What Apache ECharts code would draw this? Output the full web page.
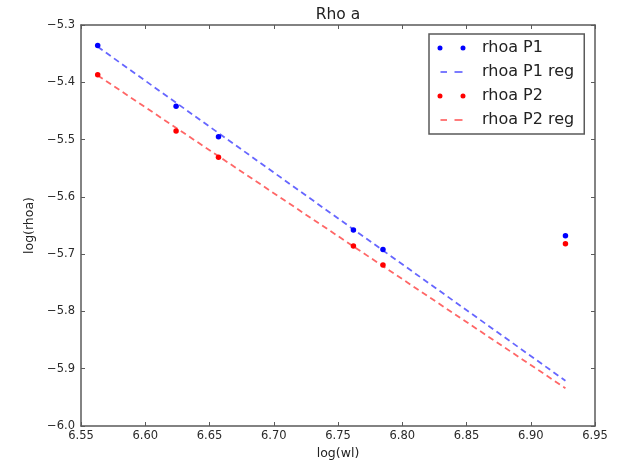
<!DOCTYPE html>
<html>
<head>
<meta charset="utf-8">
<script src="https://cdn.jsdelivr.net/npm/echarts@6/dist/echarts.min.js"></script>
<style>
html,body{margin:0;padding:0;background:#fff;}
#chart{width:619px;height:466px;}
</style>
</head>
<body>
<div id="chart"></div>
<script>
// ---- data ----
var xValues = [6.563, 6.624, 6.657, 6.762, 6.785, 6.927];
var rhoaP1 = [-5.336, -5.442, -5.495, -5.658, -5.692, -5.668];
var rhoaP2 = [-5.387, -5.485, -5.531, -5.686, -5.719, -5.682];
var regX = [6.563, 6.927];
var regP1 = [-5.338, -5.921];
var regP2 = [-5.388, -5.934];
var seriesNames = ['rhoa P1', 'rhoa P1 reg', 'rhoa P2', 'rhoa P2 reg'];
var titleText = 'Rho a';
var xName = 'log(wl)';
var yName = 'log(rhoa)';

function pairs(xs, ys) { return xs.map(function (x, i) { return [x, ys[i]]; }); }

var FONT = 'DejaVu Sans';
var frame = '#5a5a5a';
var dotsIcon = 'path://M0,0 M40,10 M5.5,5 A2.5,2.5 0 1 1 0.5,5 A2.5,2.5 0 1 1 5.5,5 Z M28.5,5 A2.5,2.5 0 1 1 23.5,5 A2.5,2.5 0 1 1 28.5,5 Z';
var dashIcon = 'path://M0,0 M40,10 M3.5,4.2 L10,4.2 L10,5.8 L3.5,5.8 Z M17.5,4.2 L25.5,4.2 L25.5,5.8 L17.5,5.8 Z';

var minusFmt = function (d) {
  return function (v) { return (v < 0 ? '\u2212' : '') + Math.abs(v).toFixed(d); };
};

var baseAxis = {
  axisLine: { show: true, lineStyle: { color: frame, width: 1.5 } },
  axisTick: { show: true, inside: true, length: 4, lineStyle: { color: frame, width: 1 } },
  splitLine: { show: false }
};

var chart = echarts.init(document.getElementById('chart'), null, { renderer: 'canvas' });
chart.setOption({
  animation: false,
  backgroundColor: '#fff',
  textStyle: { fontFamily: FONT },
  title: {
    text: titleText, left: 338, top: 7, textAlign: 'center', padding: 0,
    textStyle: { fontFamily: FONT, fontSize: 15.5, fontWeight: 'normal', color: '#222' }
  },
  grid: { left: 81, right: 24, top: 25, bottom: 40, containLabel: false },
  xAxis: [
    Object.assign({}, baseAxis, {
      type: 'value', min: 6.55, max: 6.95, interval: 0.05, position: 'bottom',
      name: xName, nameLocation: 'middle', nameGap: 15,
      nameTextStyle: { fontFamily: FONT, fontSize: 12.5, color: '#222' },
      axisLabel: { margin: 4, fontFamily: FONT, fontSize: 11.5, color: '#2a2a2a', formatter: minusFmt(2) }
    }),
    Object.assign({}, baseAxis, {
      type: 'value', min: 6.55, max: 6.95, interval: 0.05, position: 'top',
      axisLabel: { show: false }
    })
  ],
  yAxis: [
    Object.assign({}, baseAxis, {
      type: 'value', min: -6.0, max: -5.3, interval: 0.1, position: 'left',
      name: yName, nameLocation: 'middle', nameGap: 44, nameRotate: 90,
      nameTextStyle: { fontFamily: FONT, fontSize: 12.5, color: '#222' },
      axisLabel: { margin: 6, fontFamily: FONT, fontSize: 11.5, color: '#2a2a2a', formatter: minusFmt(1) }
    }),
    Object.assign({}, baseAxis, {
      type: 'value', min: -6.0, max: -5.3, interval: 0.1, position: 'right',
      axisLabel: { show: false }
    })
  ],
  legend: {
    orient: 'vertical', left: 429, top: 34,
    padding: [6, 10, 6, 8],
    itemWidth: 40, itemHeight: 10, itemGap: 8,
    backgroundColor: '#fff', borderColor: frame, borderWidth: 1.5, borderRadius: 0,
    itemStyle: { borderWidth: 0 },
    textStyle: { fontFamily: FONT, fontSize: 16, lineHeight: 16, color: '#222' },
    data: [
      { name: seriesNames[0], icon: dotsIcon },
      { name: seriesNames[1], icon: dashIcon },
      { name: seriesNames[2], icon: dotsIcon },
      { name: seriesNames[3], icon: dashIcon }
    ]
  },
  series: [
    {
      name: seriesNames[0], type: 'scatter', symbolSize: 5.5,
      itemStyle: { color: '#0000ff', opacity: 1 }, data: pairs(xValues, rhoaP1), z: 3
    },
    {
      name: seriesNames[1], type: 'line', showSymbol: false, symbol: 'none',
      itemStyle: { color: '#5050ff' },
      lineStyle: { color: '#4040ff', width: 1.8, type: [6, 4], opacity: 0.8 },
      data: pairs(regX, regP1), z: 2
    },
    {
      name: seriesNames[2], type: 'scatter', symbolSize: 5.5,
      itemStyle: { color: '#ff0000', opacity: 1 }, data: pairs(xValues, rhoaP2), z: 3
    },
    {
      name: seriesNames[3], type: 'line', showSymbol: false, symbol: 'none',
      itemStyle: { color: '#ff5050' },
      lineStyle: { color: '#ff4040', width: 1.8, type: [6, 4], opacity: 0.8 },
      data: pairs(regX, regP2), z: 2
    }
  ]
});
</script>
</body>
</html>
